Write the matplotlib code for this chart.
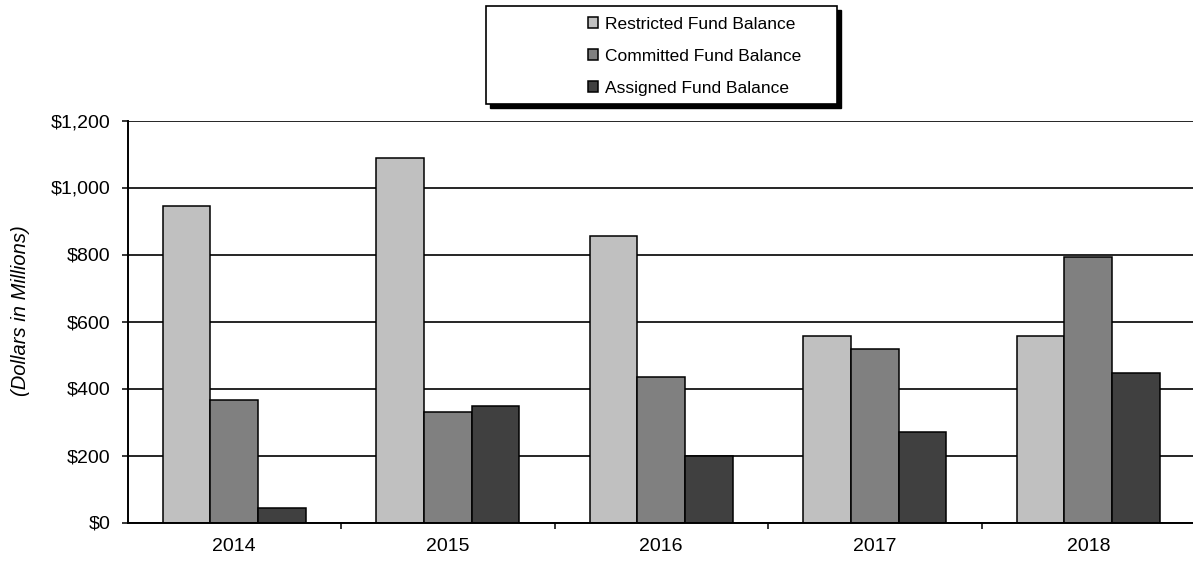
import matplotlib
matplotlib.use("Agg")
import matplotlib.pyplot as plt
import numpy as np
from matplotlib.patches import Rectangle, Patch

years = ["2014", "2015", "2016", "2017", "2018"]
restricted = [945, 1087, 855, 557, 557]
committed = [365, 330, 433, 517, 793]
assigned = [43, 348, 198, 270, 445]
series_names = ["Restricted Fund Balance", "Committed Fund Balance", "Assigned Fund Balance"]
colors = ["#C0C0C0", "#808080", "#404040"]
yticks = [0, 200, 400, 600, 800, 1000, 1200]
ytick_labels = ["$0", "$200", "$400", "$600", "$800", "$1,000", "$1,200"]

plt.rcParams['font.family'] = ['Liberation Sans', 'DejaVu Sans']

W, H = 1193, 561
fig = plt.figure(figsize=(W / 100, H / 100), dpi=100)
ax = fig.add_axes([127.5 / W, 38.5 / H, 1067.5 / W, 402 / H])

x = np.arange(len(years))
bw = 0.223
for i, (vals, c) in enumerate(zip([restricted, committed, assigned], colors)):
    ax.bar(x + (i - 1) * bw, vals, width=bw, color=c, edgecolor="black",
           linewidth=1.1, zorder=3)

ax.set_xlim(-0.5, len(years) - 0.5)
ax.set_ylim(0, 1200)
ax.set_yticks(yticks)
ax.set_yticklabels(ytick_labels, fontsize=14)
ax.set_xticks(x)
ax.set_xticklabels(years, fontsize=14)
ax.tick_params(axis='x', which='major', length=0, pad=11)
ax.set_xticks(np.arange(0.5, len(years) - 0.5, 1.0), minor=True)
ax.tick_params(axis='x', which='minor', length=4.5, width=1.1, direction='out')
ax.tick_params(axis='y', length=4.5, width=1.1, direction='out', pad=7.5)
ax.yaxis.grid(True, color="black", linewidth=1.2, zorder=0)
ax.set_axisbelow(True)
for s in ["top", "right"]:
    ax.spines[s].set_visible(False)
for s in ["left", "bottom"]:
    ax.spines[s].set_linewidth(1.4)
    ax.spines[s].set_zorder(4)

fig.text(21 / W, 1 - 311 / H, "(Dollars in Millions)", fontsize=14.5, style="italic",
         rotation=90, ha="center", va="center")

# legend box with shadow
bx, by, bw_, bh_ = 486, 6, 351, 98
sh = 4
fig.patches.append(Rectangle(((bx + sh) / W, (H - by - bh_ - sh) / H), bw_ / W, bh_ / H,
                             transform=fig.transFigure, facecolor="black",
                             edgecolor="black", zorder=1))
fig.patches.append(Rectangle((bx / W, (H - by - bh_) / H), bw_ / W, bh_ / H,
                             transform=fig.transFigure, facecolor="white",
                             edgecolor="black", linewidth=1.2, zorder=2))
handles = [Patch(facecolor=c, edgecolor="black", linewidth=1.1) for c in colors]
leg = fig.legend(handles, series_names, loc="upper left",
                 bbox_to_anchor=(574 / W, (H - 3) / H), frameon=False,
                 fontsize=12.5, handlelength=0.6, handleheight=0.6,
                 handletextpad=0.4, labelspacing=0.97, borderpad=0.3)
leg.set_zorder(5)

fig.savefig("out.png", dpi=100)
